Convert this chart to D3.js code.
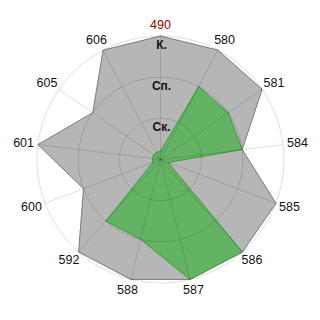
<!DOCTYPE html>
<html>
<head>
<meta charset="utf-8">
<script src="https://cdn.jsdelivr.net/npm/d3@7"></script>
<style>
  html, body { margin: 0; padding: 0; background: #ffffff; }
  svg { display: block; font-family: "Liberation Sans", Arial, sans-serif; }
</style>
</head>
<body>
<div id="chart"></div>
<script>
// Categories clockwise from the top
const categories = ["490", "580", "581", "584", "585", "586", "587", "588", "592", "600", "601", "605", "606"];
// Ring levels and their labels
const levels = [1, 2, 3];
const levelLabels = ["Ск.", "Сп.", "К."];
// Series values (0..3)
const outerValues = [3, 3, 3, 2, 3, 3, 3, 3, 3, 2, 3, 2, 3];
const innerValues = [0.2, 2, 2, 2, 0.2, 3, 3, 2, 2, 0.2, 0.2, 0.2, 0.2];

const width = 320;
const height = 320;
const cx = 160.5;
const cy = 159.5;
const radius = 123.5;

const svg = d3.select("#chart")
  .append("svg")
  .attr("width", width)
  .attr("height", height);

const g = svg.append("g").attr("transform", `translate(${cx},${cy})`);

const angle = d3.scaleBand()
  .domain(categories)
  .range([0, 2 * Math.PI])
  .paddingInner(0)
  .align(0);

const r = d3.scaleLinear().domain([0, 3]).range([0, radius]);

const lineRadial = d3.lineRadial()
  .angle((d, i) => angle(categories[i]))
  .radius((d) => r(d))
  .curve(d3.curveLinearClosed);

// Series polygons
g.append("path")
  .datum(outerValues)
  .attr("d", lineRadial)
  .attr("fill", "#b6b6b6")
  .attr("stroke", "#7a7a7a")
  .attr("stroke-width", 1);

g.append("path")
  .datum(innerValues)
  .attr("d", lineRadial)
  .attr("fill", "#64b264")
  .attr("stroke", "#3d9b3d")
  .attr("stroke-width", 1);

// Grid drawn on top, translucent so it darkens what is below
const grid = g.append("g")
  .attr("fill", "none")
  .attr("stroke", "rgba(0,0,0,0.13)")
  .attr("stroke-width", 1);

grid.selectAll("circle")
  .data(levels)
  .join("circle")
  .attr("r", (d) => r(d));

grid.selectAll("line")
  .data(categories)
  .join("line")
  .attr("x1", 0)
  .attr("y1", 0)
  .attr("x2", (d) => r(3) * Math.sin(angle(d)))
  .attr("y2", (d) => -r(3) * Math.cos(angle(d)));

// Level labels
g.selectAll(".level-label")
  .data(levels)
  .join("text")
  .attr("class", "level-label")
  .attr("x", 1)
  .attr("y", (d) => -r(d) + 9)
  .attr("text-anchor", "middle")
  .attr("dominant-baseline", "central")
  .attr("font-size", "12px")
  .attr("font-weight", "bold")
  .attr("fill", "#111")
  .text((d, i) => levelLabels[i]);

// Category labels: box pushed outward from the rim
const labels = g.selectAll(".cat-label")
  .data(categories)
  .join("text")
  .attr("class", "cat-label")
  .attr("text-anchor", "middle")
  .attr("dominant-baseline", "central")
  .attr("font-size", "12.5px")
  .attr("fill", (d, i) => (i === 0 ? "#990000" : "#111"))
  .text((d) => d);

labels.each(function (d) {
  const a = angle(d);
  const w = this.getComputedTextLength();
  const s = Math.sin(a);
  const c = Math.cos(a);
  d3.select(this)
    .attr("x", (radius + 4) * s + (w / 2) * s)
    .attr("y", -(radius + 6) * c - 5 * c);
});
</script>
</body>
</html>
